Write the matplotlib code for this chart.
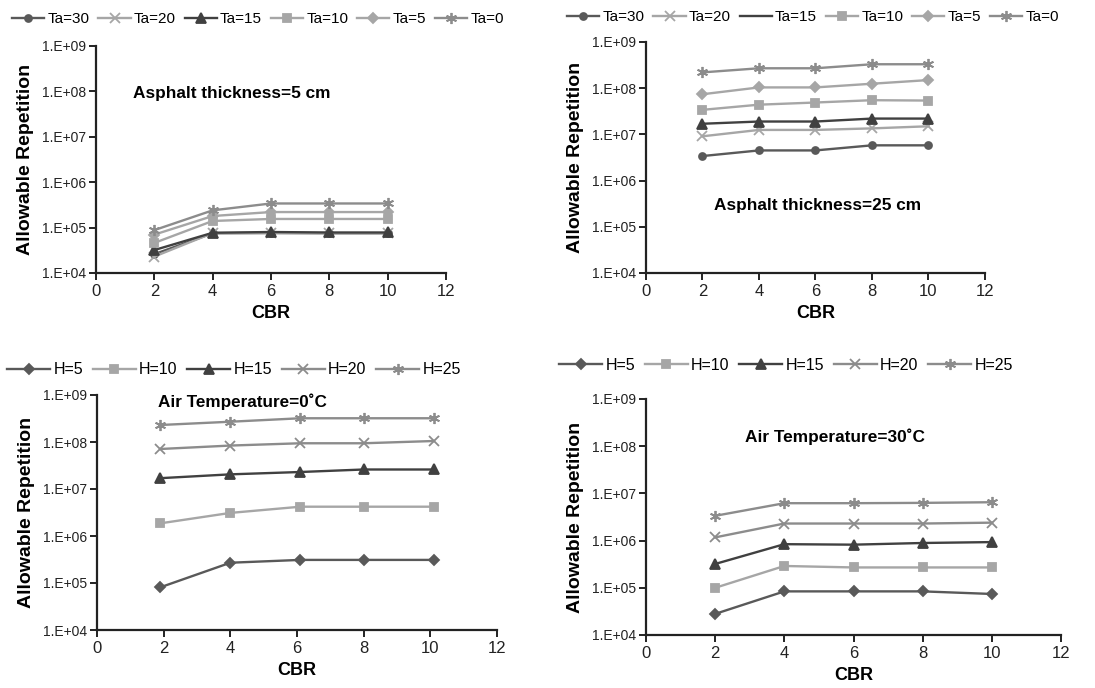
import math
import matplotlib.pyplot as plt
from matplotlib.lines import Line2D
from matplotlib.ticker import FixedLocator, FuncFormatter, NullLocator

plt.rcParams['font.family'] = ['Liberation Sans', 'DejaVu Sans']

# CBR values
cbr = [2, 4, 6, 8, 10]
cbr_0c = [1.9, 4.0, 6.1, 8.0, 10.1]

# asphalt thickness = 5 cm
h5_ta30 = [2.6e4, 7.5e4, 7.6e4, 7.5e4, 7.5e4]
h5_ta20 = [2.3e4, 7.6e4, 7.6e4, 7.6e4, 7.6e4]
h5_ta15 = [3.2e4, 7.7e4, 8.0e4, 7.8e4, 7.8e4]
h5_ta10 = [4.6e4, 1.4e5, 1.55e5, 1.55e5, 1.55e5]
h5_ta5 = [7.0e4, 1.8e5, 2.2e5, 2.2e5, 2.2e5]
h5_ta0 = [8.8e4, 2.4e5, 3.4e5, 3.4e5, 3.4e5]

# asphalt thickness = 25 cm
h25_ta30 = [3.4e6, 4.5e6, 4.5e6, 5.8e6, 5.8e6]
h25_ta20 = [9.1e6, 1.25e7, 1.25e7, 1.35e7, 1.5e7]
h25_ta15 = [1.7e7, 1.9e7, 1.9e7, 2.2e7, 2.2e7]
h25_ta10 = [3.4e7, 4.4e7, 4.9e7, 5.5e7, 5.4e7]
h25_ta5 = [7.4e7, 1.04e8, 1.04e8, 1.25e8, 1.5e8]
h25_ta0 = [2.2e8, 2.7e8, 2.7e8, 3.3e8, 3.3e8]

# air temperature = 0 C
t0_h5 = [8.1e4, 2.7e5, 3.1e5, 3.1e5, 3.1e5]
t0_h10 = [1.86e6, 3.1e6, 4.2e6, 4.2e6, 4.2e6]
t0_h15 = [1.7e7, 2.05e7, 2.3e7, 2.6e7, 2.6e7]
t0_h20 = [7.1e7, 8.4e7, 9.4e7, 9.4e7, 1.05e8]
t0_h25 = [2.3e8, 2.7e8, 3.2e8, 3.2e8, 3.2e8]

# air temperature = 30 C
t30_h5 = [2.8e4, 8.4e4, 8.4e4, 8.4e4, 7.4e4]
t30_h10 = [1.0e5, 2.9e5, 2.7e5, 2.7e5, 2.7e5]
t30_h15 = [3.2e5, 8.4e5, 8.2e5, 8.9e5, 9.3e5]
t30_h20 = [1.17e6, 2.3e6, 2.3e6, 2.3e6, 2.4e6]
t30_h25 = [3.35e6, 6.2e6, 6.2e6, 6.3e6, 6.5e6]

ta_labels = ["Ta=30", "Ta=20", "Ta=15", "Ta=10", "Ta=5", "Ta=0"]
h_labels = ["H=5", "H=10", "H=15", "H=20", "H=25"]

star = (6, 2, 0)
ta_styles = [("#595959", "o", 5), ("#a6a6a6", "x", 6.5), ("#404040", "^", 6.5),
             ("#a6a6a6", "s", 6), ("#a6a6a6", "D", 5), ("#8c8c8c", star, 8)]
h_styles = [("#595959", "D", 5), ("#a6a6a6", "s", 6), ("#404040", "^", 6.5),
            ("#8c8c8c", "x", 6.5), ("#8c8c8c", star, 8)]

W, H = 1095, 688
fig = plt.figure(figsize=(W / 100, H / 100), dpi=100)

leg_kw = dict(loc="center", frameon=False, columnspacing=0.6, handletextpad=0.2)


def make_axes(left, right, top, bottom):
    return fig.add_axes([left / W, 1 - bottom / H, (right - left) / W, (bottom - top) / H])


def style_axes(ax):
    ax.set_yscale("log")
    ax.set_ylim(1e4, 1e9)
    ax.set_xlim(0, 12)
    ax.xaxis.set_major_locator(FixedLocator([0, 2, 4, 6, 8, 10, 12]))
    ax.yaxis.set_major_locator(FixedLocator([1e4, 1e5, 1e6, 1e7, 1e8, 1e9]))
    ax.yaxis.set_minor_locator(NullLocator())
    ax.yaxis.set_major_formatter(FuncFormatter(lambda v, p: "1.E+%02d" % round(math.log10(v))))
    for s in ["top", "right"]:
        ax.spines[s].set_visible(False)
    for s in ["left", "bottom"]:
        ax.spines[s].set_linewidth(1.6)
        ax.spines[s].set_color("#222222")
    ax.tick_params(axis="both", direction="out", length=5, width=1.4, colors="#222222")
    ax.tick_params(axis="y", labelsize=10, pad=2)
    ax.tick_params(axis="x", labelsize=12, pad=3)
    ax.set_xlabel("CBR", fontsize=13, fontweight="bold", labelpad=4)
    ax.set_ylabel("Allowable Repetition", fontsize=14, fontweight="bold", labelpad=6)


def draw(ax, x, series, styles, labels):
    handles = []
    for y, (c, m, ms), lab in zip(series, styles, labels):
        h, = ax.plot(x, y, color=c, marker=m, markersize=ms, linewidth=1.7,
                     markeredgewidth=1.3, label=lab)
        handles.append(h)
    return handles


# panel 1
ax1 = make_axes(96, 446, 46, 273)
style_axes(ax1)
hs = draw(ax1, cbr, [h5_ta30, h5_ta20, h5_ta15, h5_ta10, h5_ta5, h5_ta0], ta_styles, ta_labels)
ax1.text(0.106, 0.79, "Asphalt thickness=5 cm", transform=ax1.transAxes,
         fontsize=12.4, fontweight="bold", va="center")
fig.legend(handles=hs, bbox_to_anchor=(258 / W, 1 - 19 / H), ncol=6, fontsize=11,
           handlelength=2.1, **leg_kw)

# panel 2
ax2 = make_axes(646, 985, 42, 273)
style_axes(ax2)
hs = draw(ax2, cbr, [h25_ta30, h25_ta20, h25_ta15, h25_ta10, h25_ta5, h25_ta0], ta_styles, ta_labels)
ax2.text(0.2, 0.294, "Asphalt thickness=25 cm", transform=ax2.transAxes,
         fontsize=12.4, fontweight="bold", va="center")
hs[2] = Line2D([], [], color="#404040", linewidth=1.7)
fig.legend(handles=hs, labels=ta_labels, bbox_to_anchor=(813 / W, 1 - 17 / H), ncol=6,
           fontsize=11, handlelength=2.1, **leg_kw)

# panel 3
ax3 = make_axes(97, 497, 395, 630)
style_axes(ax3)
hs = draw(ax3, cbr_0c, [t0_h5, t0_h10, t0_h15, t0_h20, t0_h25], h_styles, h_labels)
ax3.text(0.153, 0.97, "Air Temperature=0\u02daC", transform=ax3.transAxes,
         fontsize=12.3, fontweight="bold", va="center")
fig.legend(handles=hs, bbox_to_anchor=(234 / W, 1 - 370 / H), ncol=5, fontsize=11.5,
           handlelength=2.7, **leg_kw)

# panel 4
ax4 = make_axes(646, 1061, 399, 635)
style_axes(ax4)
hs = draw(ax4, cbr, [t30_h5, t30_h10, t30_h15, t30_h20, t30_h25], h_styles, h_labels)
ax4.text(0.239, 0.84, "Air Temperature=30\u02daC", transform=ax4.transAxes,
         fontsize=12.4, fontweight="bold", va="center")
fig.legend(handles=hs, bbox_to_anchor=(786 / W, 1 - 365 / H), ncol=5, fontsize=11.5,
           handlelength=2.7, **leg_kw)

fig.savefig("out.png", dpi=100)
